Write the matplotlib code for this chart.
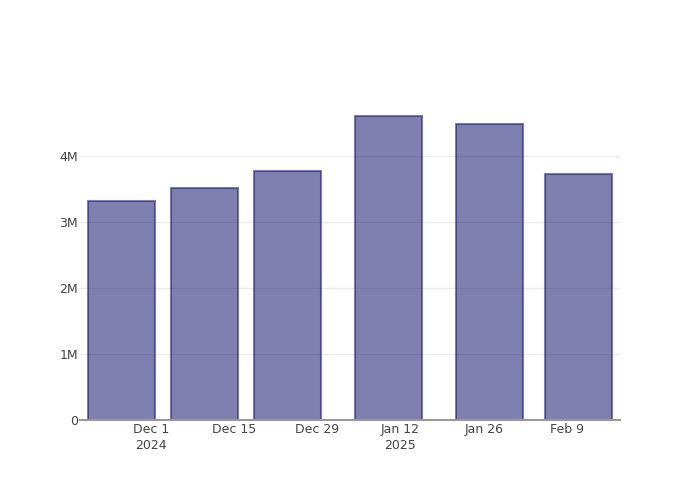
import matplotlib
matplotlib.use("Agg")
import matplotlib.pyplot as plt
import matplotlib.dates as mdates
import numpy as np
import datetime as dt

# Data
dates = ["2024-11-26", "2024-12-10", "2024-12-24", "2025-01-10", "2025-01-27", "2025-02-11"]
values = [3.31e6, 3.515e6, 3.76e6, 4.605e6, 4.47e6, 3.725e6]
tick_dates = ["2024-12-01", "2024-12-15", "2024-12-29", "2025-01-12", "2025-01-26", "2025-02-09"]
tick_labels = ["Dec 1\n2024", "Dec 15", "Dec 29", "Jan 12\n2025", "Jan 26", "Feb 9"]
y_ticks = [0, 1e6, 2e6, 3e6, 4e6]
y_labels = ["0", "1M", "2M", "3M", "4M"]

plt.rcParams['font.family'] = ['DejaVu Sans']

x = [mdates.date2num(dt.datetime.fromisoformat(d)) for d in dates]
xt = [mdates.date2num(dt.datetime.fromisoformat(d)) for d in tick_dates]

fig = plt.figure(figsize=(7, 5), dpi=100)
ax = fig.add_axes([80/700, 80/500, 540/700, 320/500])

width = 11.2
ax.bar(x, values, width=width, color=(25/255, 25/255, 112/255, 0.55),
       edgecolor=(25/255, 25/255, 112/255, 0.55), linewidth=1.5, zorder=2)

pad = 1.35
ax.set_xlim(x[0] - width/2 - pad, x[-1] + width/2 + pad)
ax.set_ylim(0, 4.84e6)

ax.set_yticks(y_ticks)
ax.set_yticklabels(y_labels)
ax.set_xticks(xt)
ax.set_xticklabels(tick_labels)

ax.grid(axis='y', color='#ebebeb', linewidth=1, zorder=0)
ax.set_axisbelow(True)
for s in ['top', 'right', 'left']:
    ax.spines[s].set_visible(False)
ax.spines['bottom'].set_color('#999999')
ax.spines['bottom'].set_linewidth(1.5)
ax.spines['bottom'].set_zorder(3)

ax.tick_params(axis='both', length=0, labelsize=9, labelcolor='#444444')
ax.tick_params(axis='y', pad=1.5)
ax.tick_params(axis='x', pad=2)
for lbl in ax.get_xticklabels():
    lbl.set_linespacing(1.3)

fig.savefig("out.png", dpi=100)
